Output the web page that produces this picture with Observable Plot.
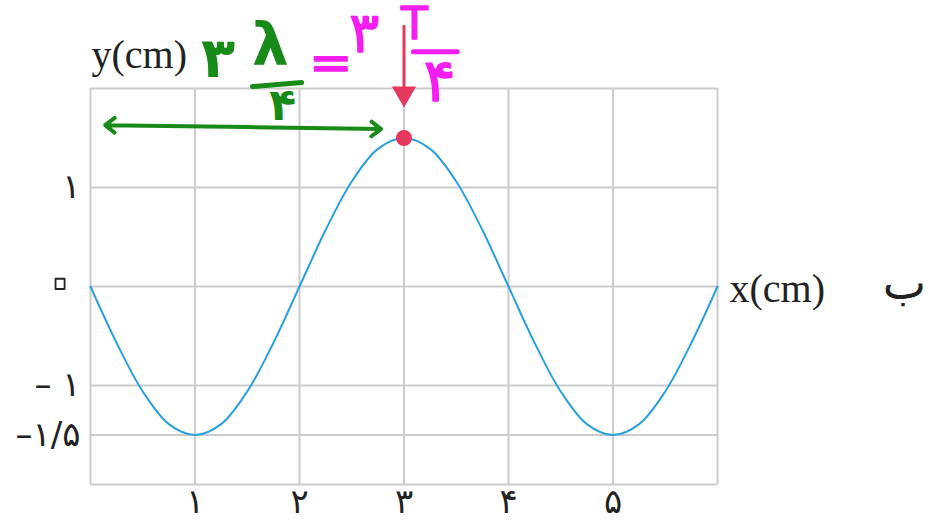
<!DOCTYPE html>
<html>
<head>
<meta charset="utf-8">
<script src="https://cdn.jsdelivr.net/npm/d3@7"></script>
<script src="https://cdn.jsdelivr.net/npm/@observablehq/plot@0.6"></script>
<style>
  html, body { margin: 0; padding: 0; background: #fff; }
  #chart svg { display: block; }
</style>
</head>
<body>
<div id="chart"></div>
<script>
// Wave profile: displacement y (cm) along x (cm)
const waveX = [0, 0.25, 0.5, 0.75, 1, 1.25, 1.5, 1.75, 2, 2.25, 2.5, 2.75, 3,
               3.25, 3.5, 3.75, 4, 4.25, 4.5, 4.75, 5, 5.25, 5.5, 5.75, 6];
const waveY = [0, -0.57, -1.06, -1.39, -1.5, -1.39, -1.06, -0.57, 0, 0.57, 1.06, 1.39, 1.5,
               1.39, 1.06, 0.57, 0, -0.57, -1.06, -1.39, -1.5, -1.39, -1.06, -0.57, 0];

// Grid lines and tick labels
const gridXValues = [0, 1, 2, 3, 4, 5, 6];
const gridYValues = [2, 1, 0, -1, -1.5, -2];
const xTickValues = [1, 2, 3, 4, 5];
const xTickLabels = ["۱", "۲", "۳", "۴", "۵"];
const yTickValues = [1, -1, -1.5];
const yTickLabels = ["۱", "– ۱", "–۱/۵"];
const zeroTick = [0];
const zeroLabel = ["۰"];

// Marked crest
const crestX = [3];
const crestY = [1.5];

// Handwritten notes (chart units)
const greenArrowFrom = {x: 1.5, y: 1.61};
const greenArrowEnds = [{x: 0.14, y: 1.63}, {x: 2.78, y: 1.59}];
const greenText = [
  {x: 1.22, y: 2.3, t: "۳", size: 56},
  {x: 1.72, y: 2.42, t: "λ", size: 58},
  {x: 1.84, y: 1.82, t: "۴", size: 44}
];
const greenBar = [{x1: 1.55, x2: 2.02, y1: 2.02, y2: 2.06}];
const pinkText = [
  {x: 2.30, y: 2.25, t: "=", size: 52},
  {x: 2.62, y: 2.55, t: "۳", size: 56},
  {x: 3.1, y: 2.64, t: "T", size: 44},
  {x: 3.34, y: 2.07, t: "۴", size: 60}
];
const pinkBar = [{x1: 3.09, x2: 3.51, y1: 2.37, y2: 2.37}];
const redArrow = {x: 3, y1: 2.64, y2: 1.85};
const redHead = [{x: 3, y: 1.95}];

const wave = waveX.map((x, i) => ({x, y: waveY[i]}));

const GRID = "#cccccc";
const BLUE = "#2ba0de";
const GREEN = "#178a17";
const PINK = "#f41ef0";
const RED = "#e5385c";
const INK = "#222";
const DIGITS = "DejaVu Sans, sans-serif";
const SERIF = "Liberation Serif, serif";

const plot = Plot.plot({
  width: 936,
  height: 521,
  marginLeft: 90,
  marginRight: 219,
  marginTop: 88,
  marginBottom: 37,
  x: {domain: [0, 6], axis: null},
  y: {domain: [-2, 2], axis: null},
  style: {background: "#fff", overflow: "visible"},
  marks: [
    Plot.ruleX(gridXValues, {stroke: GRID, strokeWidth: 2}),
    Plot.ruleY(gridYValues, {stroke: GRID, strokeWidth: 2}),
    Plot.text(xTickValues, {
      x: d => d, y: -2, text: (d, i) => xTickLabels[i],
      dy: 18, fontSize: 34, fontFamily: DIGITS, fill: INK
    }),
    Plot.text(yTickValues, {
      x: 0, y: d => d, text: (d, i) => yTickLabels[i],
      dx: -10, textAnchor: "end", fontSize: 34, fontFamily: DIGITS, fill: INK
    }),
    Plot.text(zeroTick, {
      x: 0, y: d => d, text: (d, i) => zeroLabel[i],
      dx: -8, dy: -6, textAnchor: "end", fontSize: 84, fontFamily: DIGITS,
      fill: "none", stroke: INK, strokeWidth: 1.8
    }),
    Plot.line(wave, {x: "x", y: "y", curve: "catmull-rom", stroke: BLUE, strokeWidth: 2}),
    Plot.text(["y(cm)"], {
      x: 0, y: 2, text: d => d, textAnchor: "start",
      dx: 1, dy: -33, fontSize: 40, fontFamily: SERIF, fill: INK
    }),
    Plot.text(["x(cm)"], {
      x: 6, y: 0, text: d => d, textAnchor: "start",
      dx: 12, dy: 3, fontSize: 40, fontFamily: SERIF, fill: INK
    }),
    Plot.text(["ب"], {
      x: 6, y: 0, text: d => d, textAnchor: "middle",
      dx: 187, dy: -2, fontSize: 46, fontFamily: DIGITS, fill: INK
    }),
    // green double-headed arrow
    Plot.arrow(greenArrowEnds, {
      x1: greenArrowFrom.x, y1: greenArrowFrom.y, x2: "x", y2: "y",
      stroke: GREEN, strokeWidth: 4, headLength: 4.5, headAngle: 75
    }),
    Plot.text(greenText, {
      x: "x", y: "y", text: "t", fontSize: d => d.size, fontWeight: "bold",
      fontFamily: DIGITS, fill: GREEN
    }),
    Plot.link(greenBar, {x1: "x1", x2: "x2", y1: "y1", y2: "y2", stroke: GREEN, strokeWidth: 5, strokeLinecap: "round"}),
    Plot.text(pinkText, {
      x: "x", y: "y", text: "t", fontSize: d => d.size,
      fontFamily: DIGITS, fill: PINK, stroke: PINK, strokeWidth: 1.5
    }),
    Plot.link(pinkBar, {x1: "x1", x2: "x2", y1: "y1", y2: "y2", stroke: PINK, strokeWidth: 5, strokeLinecap: "round"}),
    // red pointer onto the crest
    Plot.link([redArrow], {x1: "x", x2: "x", y1: "y1", y2: "y2", stroke: RED, strokeWidth: 3}),
    Plot.dot(redHead, {x: "x", y: "y", symbol: "triangle", r: 9, rotate: 180, fill: RED, stroke: "none"}),
    Plot.dot(crestX.map((x, i) => ({x, y: crestY[i]})), {x: "x", y: "y", r: 8, fill: RED, stroke: "none"})
  ]
});
document.getElementById("chart").append(plot);
</script>
</body>
</html>
